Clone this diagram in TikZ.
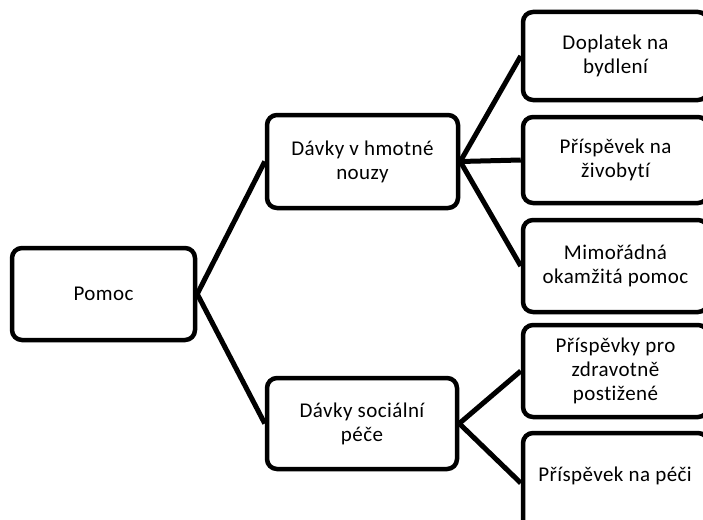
\documentclass[tikz,border=0pt]{standalone}
\usepackage{fontspec}
\setmainfont[LetterSpace=2,Ligatures=NoCommon,RawFeature={-liga;-clig}]{Carlito}
\begin{document}
\begin{tikzpicture}[x=1pt,y=-1pt,
  box/.style={draw=black,line width=4.5pt,rounded corners=10pt,fill=white,
    inner sep=0pt,align=center,font=\fontsize{21}{24}\selectfont},
  conn/.style={line width=5pt,black},
  txt/.style={inner sep=0pt,align=center,font=\fontsize{21}{24}\selectfont}]
\useasboundingbox (0,0) rectangle (703,519);
\clip (0,0) rectangle (703,519);
% root
\node[box,minimum width=183pt,minimum height=92pt] (pomoc) at (103.5,294) {Pomoc};
% middle level
\node[box,minimum width=191pt,minimum height=93pt] (hmot) at (362.5,161.5) {Dávky v hmotné\\nouzy};
\node[box,minimum width=190pt,minimum height=91pt] (soc) at (362,423.5) {Dávky sociální\\péče};
% right level
\node[box,minimum width=185pt,minimum height=88pt] (b1) at (615.5,56) {Doplatek na\\bydlení};
\node[box,minimum width=185pt,minimum height=86pt] (b2) at (615.5,160) {Příspěvek na\\živobytí};
\node[box,minimum width=185pt,minimum height=92pt] (b3) at (615.5,266) {Mimořádná\\okamžitá pomoc};
\node[box,minimum width=185pt,minimum height=92pt] (b4) at (615.5,371) {Příspěvky pro\\zdravotně\\postižené};
\node[box,minimum width=185pt,minimum height=100pt] (b5) at (615.5,483) {};
\node[txt] (b5t) at (615,476) {Příspěvek na péči};
% connectors
\draw[conn] (pomoc.east) -- (hmot.west);
\draw[conn] (pomoc.east) -- (soc.west);
\draw[conn] (hmot.east) -- (b1.west);
\draw[conn] (hmot.east) -- (b2.west);
\draw[conn] (hmot.east) -- (b3.west);
\draw[conn] (soc.east) -- (b4.west);
\draw[conn] (soc.east) -- (b5.west);
\end{tikzpicture}
\end{document}
